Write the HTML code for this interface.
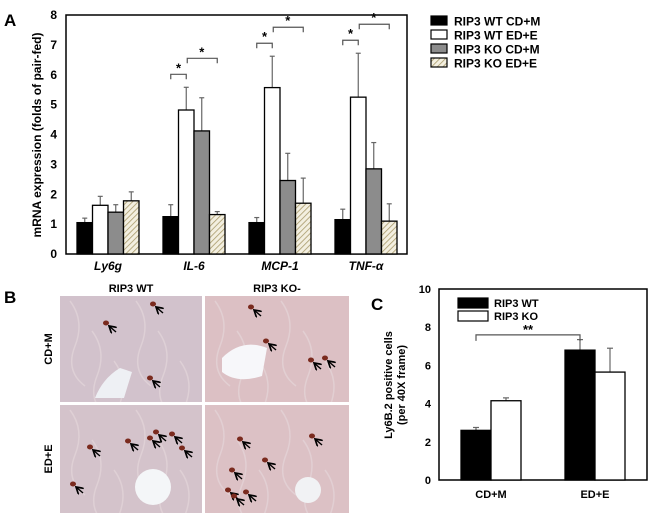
<!DOCTYPE html>
<html style="margin:0;width:650px;height:513px;overflow:hidden"><head><meta charset="utf-8"><style>
body{margin:0;background:#fff;width:650px;height:513px;overflow:hidden;font-family:"Liberation Sans",Arial,sans-serif}
svg{display:block;overflow:hidden}
text{font-family:"Liberation Sans",Arial,sans-serif;font-weight:bold;fill:#000}
</style></head><body>
<svg id="fig" width="650" height="513" viewBox="0 0 650 513">
<defs>
<pattern id="hatch" width="4" height="4" patternUnits="userSpaceOnUse" patternTransform="rotate(45)">
<rect width="4" height="4" fill="#f3efe0"/><line x1="0" y1="0" x2="0" y2="4" stroke="#a89a6a" stroke-width="1.6"/></pattern>
<marker id="ah" markerWidth="6" markerHeight="6" refX="5" refY="3" orient="auto"><path d="M0,0 L5,3 L0,6" fill="none" stroke="#000" stroke-width="1.2"/></marker>
</defs>
<text x="4" y="26" font-size="17">A</text>
<g id="chartA"></g>
<g id="legendA"></g>
<text x="4" y="303" font-size="17">B</text>
<text x="131" y="292" font-size="11" text-anchor="middle">RIP3 WT</text>
<text x="277" y="292" font-size="11" text-anchor="middle">RIP3 KO-</text>
<text transform="translate(52,349) rotate(-90)" font-size="11" text-anchor="middle">CD+M</text>
<text transform="translate(52,459) rotate(-90)" font-size="11" text-anchor="middle">ED+E</text>
<g id="micro"></g>
<text x="371" y="310" font-size="17">C</text>
<g id="chartC"></g>
</svg>
<script>
// Panel A data
const catsA = ["Ly6g","IL-6","MCP-1","TNF-α"];
const wtCdm = [1.05,1.25,1.05,1.15];
const wtCdmErr = [1.2,1.65,1.22,1.5];
const wtEde = [1.63,4.82,5.57,5.25];
const wtEdeErr = [1.93,5.58,6.62,6.72];
const koCdm = [1.4,4.12,2.46,2.85];
const koCdmErr = [1.65,5.23,3.37,3.73];
const koEde = [1.78,1.32,1.7,1.1];
const koEdeErr = [2.08,1.42,2.54,1.68];
const ticksA = [0,1,2,3,4,5,6,7,8];
const seriesNames = ["RIP3 WT CD+M","RIP3 WT ED+E","RIP3 KO  CD+M","RIP3 KO  ED+E"];
// Panel C data
const catsC = ["CD+M","ED+E"];
const cWt = [2.6,6.8];
const cWtErr = [2.75,7.35];
const cKo = [4.15,5.65];
const cKoErr = [4.3,6.9];
const ticksC = [0,2,4,6,8,10];

const NS="http://www.w3.org/2000/svg";
function mk(p,tag,at,txt){const e=document.createElementNS(NS,tag);for(const k in at)e.setAttribute(k,at[k]);if(txt!==undefined)e.textContent=txt;p.appendChild(e);return e;}

// ---- Chart A
const A=document.getElementById('chartA');
const ax0=66,ax1=407,ay0=254,ay1=15;
const yA=v=>ay0-(v/8)*(ay0-ay1);
const gx=i=>108+i*86;
const bw=15.5;
let fr=mk(A,'rect',{x:ax0,y:ay1,width:ax1-ax0,height:ay0-ay1,fill:'none',stroke:'#000','stroke-width':1.5});


ticksA.forEach(t=>{let l=mk(A,'text',{x:57,y:yA(t)+4,'font-size':12,'text-anchor':'end'},t);

});
let yt=mk(A,'text',{transform:'translate(41,135) rotate(-90)','font-size':12,'text-anchor':'middle'},'mRNA expression  (folds of pair-fed)');


const fills=['#000','#fff','#8c8c8c','url(#hatch)'];
const vals=[wtCdm,wtEde,koCdm,koEde], errs=[wtCdmErr,wtEdeErr,koCdmErr,koEdeErr];
catsA.forEach((c,i)=>{
 let cl=mk(A,'text',{x:gx(i),y:270,'font-size':12,'text-anchor':'middle','font-style':'italic'},c);
 
 
 for(let s=0;s<4;s++){
  const x=gx(i)-2*bw+s*bw, v=vals[s][i], e=errs[s][i];
  let el=mk(A,'line',{x1:x+bw/2,x2:x+bw/2,y1:yA(v),y2:yA(e),stroke:'#666','stroke-width':1.2});
  
  
  mk(A,'line',{x1:x+bw/2-2.5,x2:x+bw/2+2.5,y1:yA(e),y2:yA(e),stroke:'#666','stroke-width':1.2});
  let b=mk(A,'rect',{x:x,y:yA(v),width:bw,height:ay0-yA(v),fill:fills[s],stroke:'#000','stroke-width':1.3});
  
  
 }
});
// brackets
catsA.forEach((c,i)=>{ if(i===0)return;
 const yb1=yA(wtEdeErr[i])-13, yb2=yb1-16;
 const x0=gx(i)-1.5*bw, x1=gx(i)-0.5*bw, x2=gx(i)+1.5*bw;
 let p1=mk(A,'path',{d:`M${x0},${yb1+5}V${yb1}H${x1}V${yb1+5}`,fill:'none',stroke:'#555','stroke-width':1.2});
 
 
 mk(A,'text',{x:(x0+x1)/2,y:yb1-2,'font-size':13,'text-anchor':'middle'},'*');
 let p2=mk(A,'path',{d:`M${x1+1},${yb2+5}V${yb2}H${x2}V${yb2+5}`,fill:'none',stroke:'#555','stroke-width':1.2});
 
 
 mk(A,'text',{x:(x1+x2)/2,y:yb2-2,'font-size':13,'text-anchor':'middle'},'*');
});
// legend A
const L=document.getElementById('legendA');
seriesNames.forEach((n,s)=>{const y=16+s*14;
 let r=mk(L,'rect',{x:431,y:y,width:16,height:9,fill:fills[s],stroke:'#000','stroke-width':1.2});
 
 
 let t=mk(L,'text',{x:454,y:y+9.5,'font-size':12},n);
 
 
});

// ---- Micrographs
const M=document.getElementById('micro');
const panels=[[60,296,142,106,'#d2c2cc'],[205,296,144,106,'#dcc0c4'],[60,405,142,108,'#d4c3cb'],[205,405,144,108,'#dcc1c5']];
panels.forEach((p,k)=>{
 let r=mk(M,'rect',{x:p[0],y:p[1],width:p[2],height:p[3],fill:p[4]});
 
 
 for(let j=0;j<6;j++){mk(M,'path',{d:`M${p[0]+10+j*22},${p[1]+5+(j%3)*30} q15,20 5,45 t10,40`,fill:'none',stroke:'#e6d8dc','stroke-width':1.5,opacity:0.6});}
});
mk(M,'path',{d:'M95,398 q8,-20 25,-30 l12,4 q-5,16 -8,26 z',fill:'#eef0f4'});
mk(M,'path',{d:'M222,358 q20,-20 45,-10 l-5,28 q-25,8 -40,-4 z',fill:'#f7f7fa'});
mk(M,'circle',{cx:153,cy:487,r:18,fill:'#f4f6f8'});
mk(M,'circle',{cx:308,cy:490,r:13,fill:'#f1f2f4'});
const cells=[[153,304],[106,323],[150,378],[251,307],[266,341],[311,360],[325,358],[90,447],[128,441],[150,438],[156,432],[172,434],[182,448],[73,484],[240,439],[232,470],[228,490],[312,436],[265,460],[234,496],[246,492]];
cells.forEach(c=>{let e=mk(M,'ellipse',{cx:c[0],cy:c[1],rx:3,ry:2.5,fill:'#7a2a1e'});
 
 
 mk(M,'line',{x1:c[0]+10,y1:c[1]+9,x2:c[0]+3,y2:c[1]+3,stroke:'#000','stroke-width':1.4,'marker-end':'url(#ah)'});
});
mk(M,'rect',{x:202,y:296,width:3,height:217,fill:'#fff'});
mk(M,'rect',{x:60,y:402,width:289,height:3,fill:'#fff'});

// ---- Chart C
const C=document.getElementById('chartC');
const cx0=439,cx1=647,cy0=480,cy1=289;
const yC=v=>cy0-(v/10)*(cy0-cy1);
const cgx=i=>491+i*104, cbw=30;
let fc=mk(C,'rect',{x:cx0,y:cy1,width:cx1-cx0,height:cy0-cy1,fill:'none',stroke:'#000','stroke-width':1.5});


ticksC.forEach(t=>{let l=mk(C,'text',{x:431,y:yC(t)+4,'font-size':11,'text-anchor':'end'},t);
 
 });
let yc1=mk(C,'text',{transform:'translate(392,385) rotate(-90)','font-size':11,'text-anchor':'middle'},'Ly6B.2 positive cells');


let yc2=mk(C,'text',{transform:'translate(405,385) rotate(-90)','font-size':11,'text-anchor':'middle'},'(per 40X frame)');


catsC.forEach((c,i)=>{
 let cl=mk(C,'text',{x:cgx(i),y:498,'font-size':11,'text-anchor':'middle'},c);
 
 
 [[cWt,cWtErr,'#000'],[cKo,cKoErr,'#fff']].forEach((s,k)=>{
  const x=cgx(i)-cbw+k*cbw, v=s[0][i], e=s[1][i];
  mk(C,'line',{x1:x+cbw/2,x2:x+cbw/2,y1:yC(v),y2:yC(e),stroke:'#666','stroke-width':1.2});
  mk(C,'line',{x1:x+cbw/2-3,x2:x+cbw/2+3,y1:yC(e),y2:yC(e),stroke:'#666','stroke-width':1.2});
  let b=mk(C,'rect',{x:x,y:yC(v),width:cbw,height:cy0-yC(v),fill:s[2],stroke:'#000','stroke-width':1.3});
  
  
 });
});
let br=mk(C,'path',{d:`M${cgx(0)-cbw/2},${yC(7.6)+6}V${yC(7.6)}H${cgx(1)-cbw/2}V${yC(7.6)+6}`,fill:'none',stroke:'#555','stroke-width':1.2});


mk(C,'text',{x:(cgx(0)+cgx(1))/2-cbw/2,y:yC(7.6)-1,'font-size':13,'text-anchor':'middle'},'**');
[['RIP3 WT','#000'],['RIP3 KO','#fff']].forEach((s,k)=>{const y=298+k*13;
 let r=mk(C,'rect',{x:458,y:y,width:30,height:10,fill:s[1],stroke:'#000','stroke-width':1.2});
 
 
 let t=mk(C,'text',{x:494,y:y+9,'font-size':11},s[0]);
 
 
});
</script>
</body></html>
